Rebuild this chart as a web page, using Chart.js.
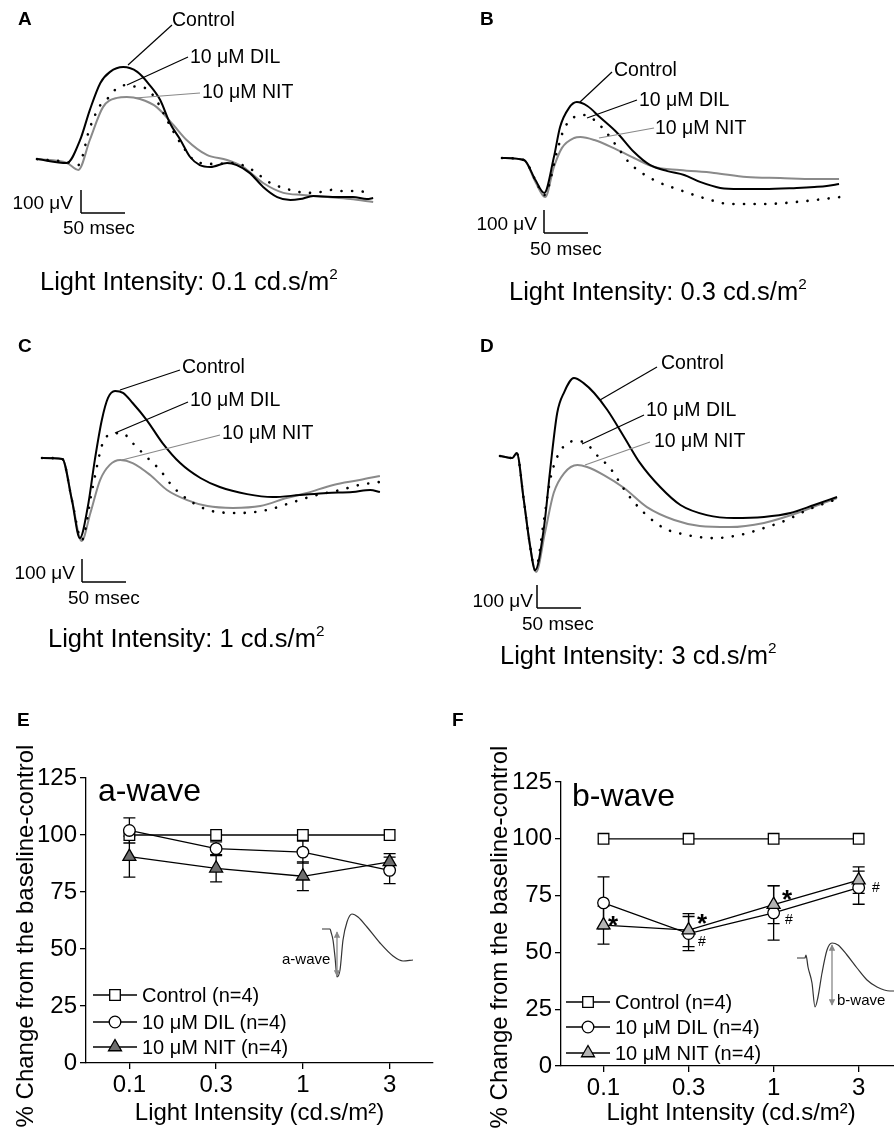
<!DOCTYPE html>
<html lang="en">
<head>
<meta charset="UTF-8">
<title>ERG traces and a-/b-wave change</title>
<script src="https://cdn.jsdelivr.net/npm/chart.js"></script>
<style>
  html, body { margin: 0; padding: 0; background: #fff; overflow: hidden; }
  #page { position: relative; width: 894px; height: 1130px; overflow: hidden;
          font-family: 'Liberation Sans', Arial, sans-serif; color: #000; }
  canvas { position: absolute; }
  .t { position: absolute; white-space: nowrap; line-height: 1; transform: translateY(-50%); }
  .r { transform: translate(-100%, -50%); }
  .b { font-weight: bold; }
  sup { font-size: 0.6em; vertical-align: 0.75em; line-height: 0; }
  .yt { position: absolute; white-space: nowrap; font-size: 24px; line-height: 1;
        transform: translate(-50%, -50%) rotate(-90deg); }
  svg { position: absolute; left: 0; top: 0; }
</style>
</head>
<body>
<div id="page">
  <canvas id="trA"></canvas>
  <canvas id="trB"></canvas>
  <canvas id="trC"></canvas>
  <canvas id="trD"></canvas>
  <canvas id="chE"></canvas>
  <canvas id="chF"></canvas>
  <canvas id="insE"></canvas>
  <canvas id="insF"></canvas>
  <svg id="ann" width="894" height="1130"></svg>
</div>

<script>
// ERG traces: time in msec, amplitude in uV (baseline = 0)
const aCtrlT = [0, 34, 49, 60, 72, 83, 98, 114, 128, 140, 151, 163, 174, 185, 197, 216, 227, 242, 257, 273, 288, 299, 314, 336, 359, 375, 382];
const aCtrlV = [4, -13, 87, 217, 335, 383, 404, 383, 326, 261, 161, 87, 13, -22, -30, -13, -22, -57, -117, -161, -174, -170, -157, -161, -161, -170, -165];
const aDilT = [0, 34, 47, 60, 72, 81, 91, 103, 114, 123, 134, 149, 163, 182, 202, 223, 236, 250, 261, 284, 308, 322, 335, 348, 361, 375];
const aDilV = [4, -9, -22, 139, 239, 270, 313, 326, 317, 313, 270, 165, 74, -9, -17, -13, -26, -57, -91, -126, -143, -139, -130, -135, -135, -139];
const aNitT = [0, 34, 47, 60, 75, 91, 102, 117, 136, 155, 170, 193, 216, 234, 257, 280, 302, 330, 356, 382];
const aNitV = [4, -13, -43, 87, 230, 270, 274, 265, 230, 152, 87, 22, 0, -30, -100, -143, -152, -161, -170, -183];

const bCtrlT = [0, 25, 38, 48, 59, 66, 76, 85, 97, 111, 131, 150, 168, 188, 207, 225, 248, 270, 298, 335, 355, 369, 383];
const bCtrlV = [0, -9, -96, -152, 4, 135, 217, 243, 226, 178, 109, 26, -30, -57, -74, -104, -130, -135, -135, -130, -126, -122, -113];
const bDilT = [0, 25, 38, 48, 63, 70, 82, 93, 105, 119, 131, 145, 173, 202, 233, 259, 298, 335, 384];
const bDilV = [0, -9, -96, -161, 35, 122, 178, 187, 165, 109, 48, -22, -96, -139, -178, -200, -200, -191, -170];
const bNitT = [0, 25, 38, 49, 59, 68, 82, 89, 105, 127, 150, 173, 202, 241, 278, 316, 355, 383];
const bNitV = [0, -9, -104, -170, -39, 43, 87, 91, 78, 43, 0, -39, -52, -65, -83, -87, -91, -91];

const cCtrlT = [0, 23, 34, 43, 52, 60, 68, 75, 83, 92, 103, 119, 137, 157, 180, 202, 233, 262, 293, 324, 353, 373, 384];
const cCtrlV = [0, -4, -183, -348, -213, -9, 165, 261, 291, 283, 239, 165, 65, -22, -87, -126, -157, -170, -161, -152, -148, -139, -148];
const cDilT = [0, 23, 34, 45, 57, 69, 80, 91, 103, 119, 134, 149, 172, 199, 225, 256, 282, 308, 339, 361, 384];
const cDilV = [0, -4, -183, -357, -139, 65, 104, 109, 65, 4, -52, -126, -196, -235, -239, -226, -196, -165, -139, -117, -104];
const cNitT = [0, 23, 34, 45, 55, 66, 77, 89, 103, 123, 142, 165, 188, 217, 248, 278, 301, 331, 361, 384];
const cNitV = [0, -4, -183, -361, -239, -96, -30, -9, -22, -74, -139, -183, -209, -217, -209, -174, -152, -117, -96, -78];

const dCtrlT = [0, 14, 19, 27, 34, 40, 50, 57, 65, 73, 84, 95, 107, 122, 141, 159, 182, 205, 235, 266, 300, 330, 357, 383];
const dCtrlV = [0, -9, 13, -191, -387, -496, -309, -61, 187, 278, 339, 317, 274, 200, 83, -30, -135, -213, -257, -270, -265, -248, -213, -178];
const dDilT = [0, 14, 19, 27, 34, 40, 50, 57, 65, 74, 85, 97, 110, 125, 144, 164, 186, 212, 243, 273, 300, 326, 349, 380];
const dDilV = [0, -9, 13, -191, -387, -496, -278, -104, -4, 48, 65, 57, 4, -52, -161, -248, -313, -343, -357, -343, -313, -278, -235, -191];
const dNitT = [0, 14, 19, 27, 34, 41, 51, 61, 73, 88, 99, 118, 141, 167, 198, 227, 261, 300, 338, 368, 383];
const dNitV = [0, -9, 13, -191, -387, -504, -335, -161, -74, -39, -48, -83, -139, -222, -278, -304, -309, -291, -248, -204, -183];

// calibration bars
const barUV = 100;
const barMS = 50;

// schematic insets (arbitrary units)
const insEt = [0, 8, 9, 11, 13, 15, 18, 21, 25, 30, 36, 45, 58, 71, 81, 91];
const insEv = [0, 0, -3, -11, -28, -48, -41, -11, 7, 15, 12, 2, -14, -27, -32, -31];
const insFt = [0, 8, 9, 11, 15, 18, 21, 25, 30, 35, 41, 50, 60, 70, 80, 93, 100];
const insFv = [0, 0, 3, -9, -25, -49, -39, -15, 8, 15, 13, 3, -10, -22, -29, -33, -33];

// % change from baseline-control
const intensities = ['0.1', '0.3', '1', '3'];
const aControl = [100, 100, 100, 100];
const aDil = [102, 94, 92.5, 84.5];
const aDilErr = [5.5, 3, 4.8, 5.8];
const aNit = [90.5, 85.4, 81.9, 88.2];
const aNitErr = [9, 6, 6.3, 3.6];
const bControl = [100, 100, 100, 100];
const bDil = [71.8, 58.3, 67.4, 78.5];
const bDilErr = [11.4, 7.5, 12, 7.3];
const bNit = [62, 59.8, 71, 81.8];
const bNitErr = [8.4, 7.3, 8.3, 5.8];

const FONT = "'Liberation Sans', Arial, sans-serif";
const MS_PER_PX = 50 / 44;
const UV_PER_PX = 100 / 23;

function pts(t, v) { return t.map((x, i) => ({x: x, y: v[i]})); }

function place(id, box) {
  const cv = document.getElementById(id);
  cv.style.left = box[0] + 'px';
  cv.style.top = box[1] + 'px';
  cv.width = box[2];
  cv.height = box[3];
  return cv;
}

const baseOpts = {
  responsive: false, animation: false, events: [],
  plugins: { legend: { display: false }, tooltip: { enabled: false } }
};

// one ERG panel: box = canvas on page, origin = page px of (0 ms, 0 uV), bar = page px of calibration corner
function tracePanel(id, box, origin, bar, ctrl, dil, nit) {
  const cv = place(id, box);
  const [x0, y0] = origin;
  const bx = (bar[0] - x0) * MS_PER_PX, by = (y0 - bar[1]) * UV_PER_PX;
  const line = { showLine: true, pointRadius: 0, cubicInterpolationMode: 'monotone', fill: false };
  const barLine = { showLine: true, pointRadius: 0, borderColor: '#000', borderWidth: 1.5 };
  new Chart(cv, {
    type: 'scatter',
    data: { datasets: [
      { ...line, data: pts(ctrl[0], ctrl[1]), borderColor: '#000', borderWidth: 2 },
      { ...line, data: pts(dil[0], dil[1]), borderColor: '#000', borderWidth: 2.6,
        borderDash: [0.1, 10.5], borderCapStyle: 'round' },
      { ...line, data: pts(nit[0], nit[1]), borderColor: '#8a8a8a', borderWidth: 2 },
      { ...barLine, data: [{x: bx, y: by}, {x: bx, y: by + barUV}] },
      { ...barLine, data: [{x: bx, y: by}, {x: bx + barMS, y: by}] }
    ]},
    options: { ...baseOpts, layout: { padding: 0 },
      scales: {
        x: { type: 'linear', display: false, min: (box[0] - x0) * MS_PER_PX, max: (box[0] + box[2] - x0) * MS_PER_PX },
        y: { type: 'linear', display: false, min: (y0 - box[1] - box[3]) * UV_PER_PX, max: (y0 - box[1]) * UV_PER_PX }
      } }
  });
}

tracePanel('trA', [0, 0, 447, 310], [37, 160], [81, 213], [aCtrlT, aCtrlV], [aDilT, aDilV], [aNitT, aNitV]);
tracePanel('trB', [447, 0, 447, 310], [502, 158], [544, 233], [bCtrlT, bCtrlV], [bDilT, bDilV], [bNitT, bNitV]);
tracePanel('trC', [0, 320, 447, 300], [42, 458], [82, 582], [cCtrlT, cCtrlV], [cDilT, cDilV], [cNitT, cNitV]);
tracePanel('trD', [447, 320, 447, 320], [500, 456], [537, 608], [dCtrlT, dCtrlV], [dDilT, dDilV], [dNitT, dNitV]);

// small schematic waveforms, 1 unit = 1 px
function inset(id, box, origin, t, v) {
  const cv = place(id, box);
  new Chart(cv, {
    type: 'scatter',
    data: { datasets: [{ data: pts(t, v), showLine: true, pointRadius: 0, borderColor: '#333',
      borderWidth: 1.2, cubicInterpolationMode: 'monotone' }] },
    options: { ...baseOpts, layout: { padding: 0 },
      scales: {
        x: { type: 'linear', display: false, min: box[0] - origin[0], max: box[0] + box[2] - origin[0] },
        y: { type: 'linear', display: false, min: origin[1] - box[1] - box[3], max: origin[1] - box[1] }
      } }
  });
}
inset('insE', [310, 895, 110, 95], [322, 929], insEt, insEv);
inset('insF', [785, 925, 115, 95], [797, 958], insFt, insFv);

const errorBars = {
  id: 'errorBars',
  beforeDatasetsDraw(chart) {
    const ctx = chart.ctx, xs = chart.scales.x, ys = chart.scales.y;
    chart.data.datasets.forEach(ds => {
      if (!ds.errors) return;
      ctx.save();
      ctx.strokeStyle = '#000';
      ctx.lineWidth = 1.3;
      ds.data.forEach((p, i) => {
        const e = ds.errors[i];
        const x = xs.getPixelForValue(p.x);
        const lo = ys.getPixelForValue(p.y - e), hi = ys.getPixelForValue(p.y + e);
        ctx.beginPath();
        ctx.moveTo(x, lo); ctx.lineTo(x, hi);
        ctx.moveTo(x - 6, lo); ctx.lineTo(x + 6, lo);
        ctx.moveTo(x - 6, hi); ctx.lineTo(x + 6, hi);
        ctx.stroke();
      });
      ctx.restore();
    });
  }
};

function drawSym(ctx, style, r, x, y) {
  ctx.beginPath();
  if (style === 'rect') {
    const s = r * Math.SQRT1_2;
    ctx.rect(x - s, y - s, 2 * s, 2 * s);
  } else if (style === 'triangle') {
    for (let k = 0; k < 3; k++) {
      const a = k * 2 * Math.PI / 3;
      const px = x + Math.sin(a) * r, py = y - Math.cos(a) * r;
      k ? ctx.lineTo(px, py) : ctx.moveTo(px, py);
    }
    ctx.closePath();
  } else {
    ctx.arc(x, y, r, 0, 2 * Math.PI);
  }
  ctx.fill();
  ctx.stroke();
}

function legendPlugin(cfg) {
  return {
    id: 'symLegend',
    afterDraw(chart) {
      const ctx = chart.ctx;
      chart.data.datasets.forEach((ds, i) => {
        const y = cfg.rows[i];
        ctx.save();
        ctx.strokeStyle = '#000';
        ctx.lineWidth = 1.3;
        ctx.beginPath(); ctx.moveTo(cfg.x0, y); ctx.lineTo(cfg.x1, y); ctx.stroke();
        ctx.fillStyle = ds.pointBackgroundColor;
        drawSym(ctx, ds.pointStyle, ds.pointRadius, (cfg.x0 + cfg.x1) / 2, y);
        ctx.restore();
      });
    }
  };
}

function effectChart(id, box, pad, yWidth, xHeight, ctrl, dil, dilErr, nit, nitErr, nitFill, leg) {
  const cv = place(id, box);
  const mk = v => v.map((y, i) => ({x: i, y: y}));
  const ds = { borderColor: '#000', borderWidth: 1.3, pointBorderColor: '#000', pointBorderWidth: 1.3, tension: 0 };
  const axisFont = { family: FONT, size: 24 };
  const tickMarks = { display: true, drawOnChartArea: false, drawTicks: true, tickLength: 6, color: '#000', lineWidth: 1.3 };
  const border = { display: true, color: '#000', width: 1.3 };
  const legCfg = { x0: leg.x0 - box[0], x1: leg.x1 - box[0], rows: leg.rows.map(y => y - box[1]) };
  new Chart(cv, {
    type: 'line',
    data: { datasets: [
      { ...ds, order: 3, label: 'Control (n=4)', data: mk(ctrl), pointStyle: 'rect', pointRadius: 7.5, pointBackgroundColor: '#fff' },
      { ...ds, order: 2, label: '10 μM DIL (n=4)', data: mk(dil), errors: dilErr, pointStyle: 'circle', pointRadius: 5.8, pointBackgroundColor: '#fff' },
      { ...ds, order: 1, label: '10 μM NIT (n=4)', data: mk(nit), errors: nitErr, pointStyle: 'triangle', pointRadius: 7.5, pointBackgroundColor: nitFill }
    ]},
    options: { ...baseOpts, layout: { padding: pad },
      scales: {
        x: { type: 'linear', min: -0.5, max: 3.5,
             afterBuildTicks: s => { s.ticks = intensities.map((_, i) => ({ value: i })); },
             afterFit: s => { s.height = xHeight; },
             ticks: { callback: v => intensities[v], font: axisFont, color: '#000', padding: 2, maxRotation: 0, autoSkip: false },
             grid: tickMarks, border: border,
             title: { display: true, text: 'Light Intensity (cd.s/m²)', font: axisFont, color: '#000', padding: { top: 0, bottom: 2 } } },
        y: { type: 'linear', min: 0, max: 125,
             afterFit: s => { s.width = yWidth; },
             ticks: { stepSize: 25, font: axisFont, color: '#000', padding: 3 },
             grid: tickMarks, border: border }
      } },
    plugins: [errorBars, legendPlugin(legCfg)]
  });
}

effectChart('chE', [0, 760, 447, 370], { top: 18, right: 14, left: 0, bottom: 0 }, 86, 67,
  aControl, aDil, aDilErr, aNit, aNitErr, '#6e6e6e', { x0: 93, x1: 137, rows: [995, 1022, 1047] });
effectChart('chF', [474, 760, 436, 370], { top: 22, right: 2, left: 0, bottom: 0 }, 87, 64,
  bControl, bDil, bDilErr, bNit, bNitErr, '#b4b4b4', { x0: 566, x1: 610, rows: [1002, 1027, 1053] });

// text labels: [html, x, y(center), size, classes]
const mu = 'μ';
const labels = [
  ['A', 18, 18, 19, 'b'], ['B', 480, 18, 19, 'b'], ['C', 18, 345, 19, 'b'], ['D', 480, 345, 19, 'b'],
  ['E', 17, 719, 19, 'b'], ['F', 452, 719, 19, 'b'],
  ['Control', 172, 20, 19.5, ''], ['10 ' + mu + 'M DIL', 190, 57, 19.5, ''], ['10 ' + mu + 'M NIT', 202, 92, 19.5, ''],
  ['Control', 614, 70, 19.5, ''], ['10 ' + mu + 'M DIL', 639, 100, 19.5, ''], ['10 ' + mu + 'M NIT', 655, 128, 19.5, ''],
  ['Control', 182, 367, 19.5, ''], ['10 ' + mu + 'M DIL', 190, 400, 19.5, ''], ['10 ' + mu + 'M NIT', 222, 433, 19.5, ''],
  ['Control', 661, 363, 19.5, ''], ['10 ' + mu + 'M DIL', 646, 410, 19.5, ''], ['10 ' + mu + 'M NIT', 654, 441, 19.5, ''],
  ['100 ' + mu + 'V', 73, 202, 19, 'r'], ['50 msec', 63, 227, 19, ''],
  ['100 ' + mu + 'V', 537, 223, 19, 'r'], ['50 msec', 530, 248, 19, ''],
  ['100 ' + mu + 'V', 75, 572, 19, 'r'], ['50 msec', 68, 597, 19, ''],
  ['100 ' + mu + 'V', 533, 600, 19, 'r'], ['50 msec', 522, 623, 19, ''],
  ['Light Intensity: 0.1 cd.s/m<sup>2</sup>', 40, 282, 25.5, ''],
  ['Light Intensity: 0.3 cd.s/m<sup>2</sup>', 509, 292, 25.5, ''],
  ['Light Intensity: 1 cd.s/m<sup>2</sup>', 48, 639, 25.5, ''],
  ['Light Intensity: 3 cd.s/m<sup>2</sup>', 500, 656, 25.5, ''],
  ['a-wave', 98, 790, 32, ''], ['b-wave', 572, 795, 32, ''],
  ['a-wave', 282, 958, 15, ''], ['b-wave', 837, 999, 15, ''],
  ['Control (n=4)', 142, 995, 20, ''], ['10 ' + mu + 'M DIL (n=4)', 142, 1022, 20, ''], ['10 ' + mu + 'M NIT (n=4)', 142, 1047, 20, ''],
  ['Control (n=4)', 615, 1002, 20, ''], ['10 ' + mu + 'M DIL (n=4)', 615, 1027, 20, ''], ['10 ' + mu + 'M NIT (n=4)', 615, 1053, 20, ''],
  ['*', 608, 925, 26, 'b'], ['*', 697, 923, 26, 'b'], ['*', 782, 899, 26, 'b'],
  ['#', 698, 941, 14, ''], ['#', 785, 919, 14, ''], ['#', 872, 887, 14, '']
];
const page = document.getElementById('page');
labels.forEach(([html, x, y, size, cls]) => {
  const d = document.createElement('div');
  d.className = 't ' + cls;
  d.innerHTML = html;
  d.style.left = x + 'px';
  d.style.top = y + 'px';
  d.style.fontSize = size + 'px';
  page.appendChild(d);
});
[['% Change from the baseline-control', 25, 936], ['% Change from the baseline-control', 499, 937]].forEach(([txt, x, y]) => {
  const d = document.createElement('div');
  d.className = 'yt';
  d.textContent = txt;
  d.style.left = x + 'px';
  d.style.top = y + 'px';
  page.appendChild(d);
});

// leader lines and inset arrows
const leaders = [
  [172, 25, 128, 65, '#000'], [188, 57, 127, 85, '#000'], [200, 93, 135, 98, '#888'],
  [612, 72, 580, 102, '#000'], [637, 100, 587, 118, '#000'], [654, 128, 599, 138, '#888'],
  [180, 370, 120, 390, '#000'], [188, 402, 115, 433, '#000'], [220, 435, 122, 460, '#888'],
  [657, 367, 600, 400, '#000'], [644, 415, 582, 444, '#000'], [650, 442, 585, 465, '#888']
];
const svg = document.getElementById('ann');
let s = '<defs><marker id="ah" viewBox="0 0 10 10" refX="9" refY="5" markerWidth="5" markerHeight="5" orient="auto-start-reverse">' +
        '<path d="M0,0 L10,5 L0,10 z" fill="#888"/></marker></defs>';
leaders.forEach(([x1, y1, x2, y2, c]) => {
  s += `<line x1="${x1}" y1="${y1}" x2="${x2}" y2="${y2}" stroke="${c}" stroke-width="1.2"/>`;
});
s += '<line x1="337" y1="932" x2="337" y2="976" stroke="#888" stroke-width="1.3" marker-start="url(#ah)" marker-end="url(#ah)"/>';
s += '<line x1="832" y1="945" x2="832" y2="1005" stroke="#888" stroke-width="1.3" marker-start="url(#ah)" marker-end="url(#ah)"/>';
svg.innerHTML = s;
</script>
</body>
</html>
